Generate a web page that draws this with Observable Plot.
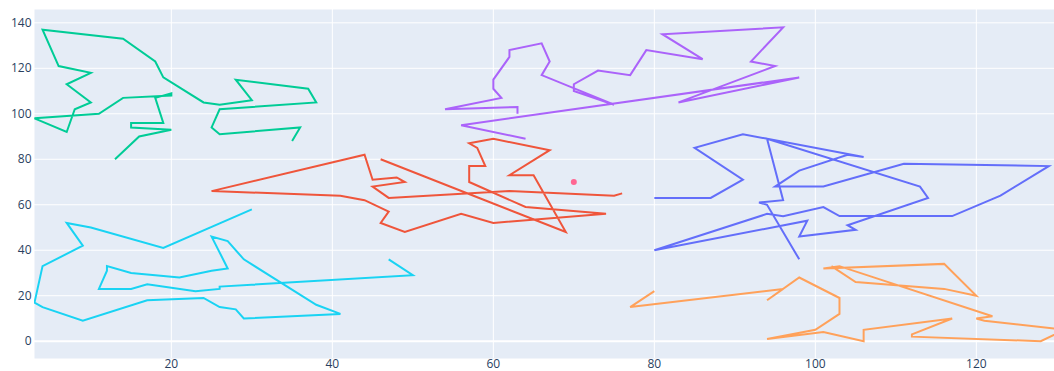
<!DOCTYPE html>
<html>
<head>
<meta charset="utf-8">
<script src="https://cdn.jsdelivr.net/npm/d3@7"></script>
<script src="https://cdn.jsdelivr.net/npm/@observablehq/plot@0.6"></script>
<style>
  html, body { margin: 0; padding: 0; background: #fff; }
  #chart svg { display: block; }
</style>
</head>
<body>
<div id="chart"></div>
<script>
// ---- data ----
const seriesNames = ["trace 0", "trace 1", "trace 2", "trace 3", "trace 4", "trace 5"];
const seriesColors = ["#636efa", "#EF553B", "#00cc96", "#ab63fa", "#FFA15A", "#19d3f3"];

const blueX = [80, 87, 91, 85, 91, 106, 104, 98, 95, 101, 111, 129, 123, 117, 103, 101, 96, 94, 80, 99, 98, 105, 104, 114, 113, 94, 96, 93, 94, 98];
const blueY = [63, 63, 71, 85, 91, 81, 82, 75, 68, 68, 78, 77, 64, 55, 55, 59, 55, 56, 40, 53, 46, 49, 51, 63, 68, 89, 62, 61, 60, 36];

const redX = [46, 69, 65, 62, 67, 60, 57, 58, 59, 57, 57, 64, 74, 60, 56, 49, 46, 47, 44, 41, 25, 44, 45, 48, 49, 45, 47, 62, 75, 76];
const redY = [80, 48, 73, 73, 84, 89, 87, 85, 77, 77, 70, 59, 56, 52, 56, 48, 52, 57, 62, 64, 66, 82, 71, 72, 70, 68, 63, 66, 64, 65];

const greenX = [13, 16, 20, 15, 15, 19, 18, 20, 20, 14, 11, 3, 7, 8, 10, 7, 10, 6, 4, 14, 18, 19, 24, 26, 30, 28, 37, 38, 26, 25, 26, 36, 35];
const greenY = [80, 90, 93, 94, 96, 96, 107, 109, 108, 107, 100, 98, 92, 102, 105, 113, 118, 121, 137, 133, 123, 116, 105, 104, 106, 115, 111, 105, 102, 94, 91, 94, 88];

const purpleX = [63, 63, 54, 61, 60, 60, 62, 62, 66, 67, 66, 75, 70, 70, 73, 77, 79, 86, 81, 96, 92, 95, 83, 98, 56, 64];
const purpleY = [100, 103, 102, 107, 111, 115, 125, 128, 131, 123, 117, 104, 110, 113, 119, 117, 128, 124, 135, 138, 123, 121, 105, 116, 95, 89];

const orangeX = [80, 77, 96, 94, 98, 103, 103, 100, 94, 101, 106, 106, 117, 112, 112, 128, 131, 121, 120, 122, 103, 101, 116, 120, 116, 105, 102];
const orangeY = [22, 15, 23, 18, 28, 19, 12, 5, 1, 4, 0, 5, 10, 3, 2, 0, 5, 9, 10, 11, 33, 32, 34, 20, 23, 26, 33];

const cyanX = [30, 19, 10, 7, 9, 4, 3, 4, 9, 17, 24, 26, 28, 29, 41, 38, 29, 27, 25, 27, 25, 21, 15, 12, 12, 11, 15, 17, 23, 26, 26, 50, 47];
const cyanY = [58, 41, 50, 52, 42, 33, 17, 15, 9, 18, 19, 15, 14, 10, 12, 16, 36, 44, 46, 32, 31, 28, 30, 33, 31, 23, 23, 25, 22, 23, 24, 29, 36];

const pinkX = [70];
const pinkY = [70];

const xTicks = [20, 40, 60, 80, 100, 120];
const yTicks = [0, 20, 40, 60, 80, 100, 120, 140];

// ---- build table ----
const allX = [blueX, redX, greenX, purpleX, orangeX, cyanX];
const allY = [blueY, redY, greenY, purpleY, orangeY, cyanY];
const rows = [];
allX.forEach((xs, i) => xs.forEach((x, j) => rows.push({series: seriesNames[i], x, y: allY[i][j]})));
const pink = pinkX.map((x, i) => ({x, y: pinkY[i]}));

const chart = Plot.plot({
  width: 1054,
  height: 371,
  marginLeft: 34,
  marginRight: 0,
  marginTop: 9,
  marginBottom: 13,
  style: {background: "#fff", fontFamily: "'Open Sans', sans-serif", fontSize: "12px", color: "#2a3f5f", overflow: "visible"},
  x: {domain: [3, 129.71], ticks: xTicks, tickSize: 0, tickPadding: 1, label: null},
  y: {domain: [-7.61, 145.86], ticks: yTicks, tickSize: 0, tickPadding: 3, label: null},
  color: {domain: seriesNames, range: seriesColors},
  marks: [
    Plot.frame({fill: "#E5ECF6", stroke: "none"}),
    Plot.ruleX(xTicks, {stroke: "#ffffff", strokeWidth: 1}),
    Plot.ruleY(yTicks.filter(d => d !== 0), {stroke: "#ffffff", strokeWidth: 1}),
    Plot.ruleY([0], {stroke: "#ffffff", strokeWidth: 2}),
    Plot.line(rows, {x: "x", y: "y", z: "series", stroke: "series", strokeWidth: 2,
      strokeLinejoin: "miter", strokeMiterlimit: 4, strokeLinecap: "butt", clip: true}),
    Plot.dot(pink, {x: "x", y: "y", r: 3, fill: "#FF6692", stroke: "none"})
  ]
});
document.getElementById("chart").appendChild(chart);
</script>
</body>
</html>
